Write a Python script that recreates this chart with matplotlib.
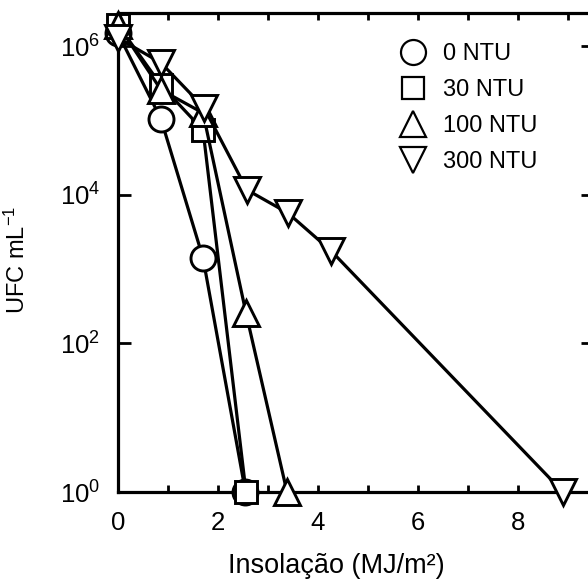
import matplotlib.pyplot as plt
import matplotlib.ticker as mticker
import numpy as np

plt.rcParams['font.family'] = ['Liberation Sans', 'DejaVu Sans']
plt.rcParams['mathtext.fontset'] = 'custom'
plt.rcParams['mathtext.rm'] = 'Liberation Sans'
plt.rcParams['mathtext.it'] = 'Liberation Sans:italic'

# Insolação (MJ/m²) vs UFC/mL for each turbidity
x_0 = [0.0, 0.86, 1.70, 2.55]
y_0 = [1.5e6, 1.05e5, 1.42e3, 1.0]

x_30 = [0.0, 0.86, 1.70, 2.56]
y_30 = [1.95e6, 3.0e5, 7.5e4, 1.0]

x_100 = [0.0, 0.86, 1.70, 2.56, 3.38]
y_100 = [1.95e6, 2.6e5, 1.27e5, 257, 1.0]

x_300 = [0.0, 0.86, 1.72, 2.58, 3.40, 4.26, 8.90]
y_300 = [1.3e6, 6.0e5, 1.5e5, 1.17e4, 5.7e3, 1.77e3, 1.0]

series = [
    (x_0, y_0, 'o', 18, '0 NTU'),
    (x_30, y_30, 's', 16, '30 NTU'),
    (x_100, y_100, '^', 19, '100 NTU'),
    (x_300, y_300, 'v', 19, '300 NTU'),
]

fig = plt.figure(figsize=(5.88, 5.85), dpi=100)
ax = fig.add_axes([118/588, 93/585, 475/588, 479/585])

for xs, ys, m, ms, lab in series:
    ax.plot(xs, ys, color='black', lw=2.3, marker=m, ms=ms, mfc='white',
            mec='black', mew=2.1, label=lab, clip_on=False, zorder=3)

ax.set_yscale('log')
ax.set_xlim(0, 9.5)
ax.set_ylim(1, 10**6.45)

ax.set_yticks([1, 1e2, 1e4, 1e6])
ax.yaxis.set_minor_locator(mticker.NullLocator())
ax.yaxis.set_major_formatter(mticker.FuncFormatter(
    lambda v, p: r'$\mathregular{10^{%d}}$' % round(np.log10(v))))
ax.set_xticks([0, 2, 4, 6, 8])
ax.xaxis.set_minor_locator(mticker.MultipleLocator(1))

ax.tick_params(axis='both', which='both', direction='in', top=True, right=True,
               width=2, labelsize=18.5)
ax.tick_params(axis='y', length=9, pad=13)
ax.tick_params(axis='x', which='both', length=5, pad=14)

for s in ax.spines.values():
    s.set_linewidth(2.3)

ax.set_xlabel('Insolação (MJ/m²)', fontsize=19.5)
ax.xaxis.set_label_coords((336 - 118) / 475, -(553 - 492) / 479)
ax.set_ylabel('UFC mL$^{-1}$', fontsize=17)
ax.yaxis.set_label_coords(-(118 - 30) / 475, (492 - 260) / 479)

leg = ax.legend(loc='upper left', bbox_to_anchor=(383/588, 1 - 31/585),
                bbox_transform=fig.transFigure, frameon=False, fontsize=17,
                handletextpad=0.55, labelspacing=0.6, handlelength=1.5,
                borderpad=0)
for h in leg.legend_handles:
    h.set_linestyle('none')
    h.set_markeredgewidth(1.6)

fig.savefig('out.png', dpi=100)
